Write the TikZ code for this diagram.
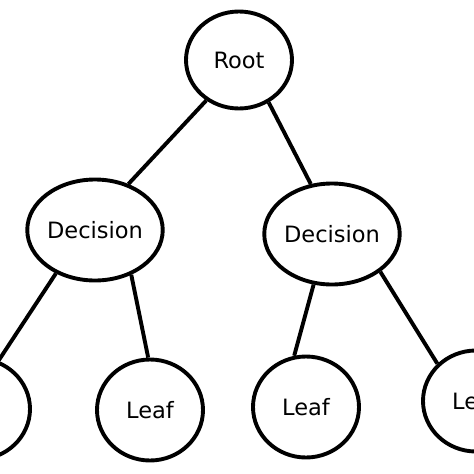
\documentclass[tikz,border=0pt]{standalone}
\usepackage{fontspec}
\setmainfont{DejaVu Sans}
\usetikzlibrary{shapes.geometric}
\begin{document}
\begin{tikzpicture}[x=1pt,y=1pt,
  treenode/.style={ellipse, draw=black, line width=3.9pt, inner sep=0pt,
    font=\fontsize{22.5}{25}\selectfont},
  rootnode/.style={treenode, minimum width=106pt, minimum height=97pt},
  decnode/.style={treenode, minimum width=112pt, minimum height=101pt},
  leafnode/.style={treenode, minimum width=106pt, minimum height=101pt},
  edge/.style={line width=3.9pt}]
\useasboundingbox (0,0) rectangle (474,-474);
\node[rootnode] (root) at (239,-60) {Root};
\node[decnode] (decl) at (95,-230) {Decision};
\node[decnode] (decr) at (332,-234) {Decision};
\node[leafnode] (leaf1) at (-23,-409) {};
\node[leafnode] (leaf2) at (150,-410) {Leaf};
\node[leafnode] (leaf3) at (306,-407) {Leaf};
\node[leafnode] (leaf4) at (476,-401) {Leaf};
\draw[edge] (root.231) -- (decl.54);
\draw[edge] (root.305) -- (decr.113);
\draw[edge] (decl.228) -- (leaf1.66);
\draw[edge] (decl.309) -- (leaf2.92);
\draw[edge] (decr.250) -- (leaf3.103);
\draw[edge] (decr.322) -- (leaf4.136);
\end{tikzpicture}
\end{document}
